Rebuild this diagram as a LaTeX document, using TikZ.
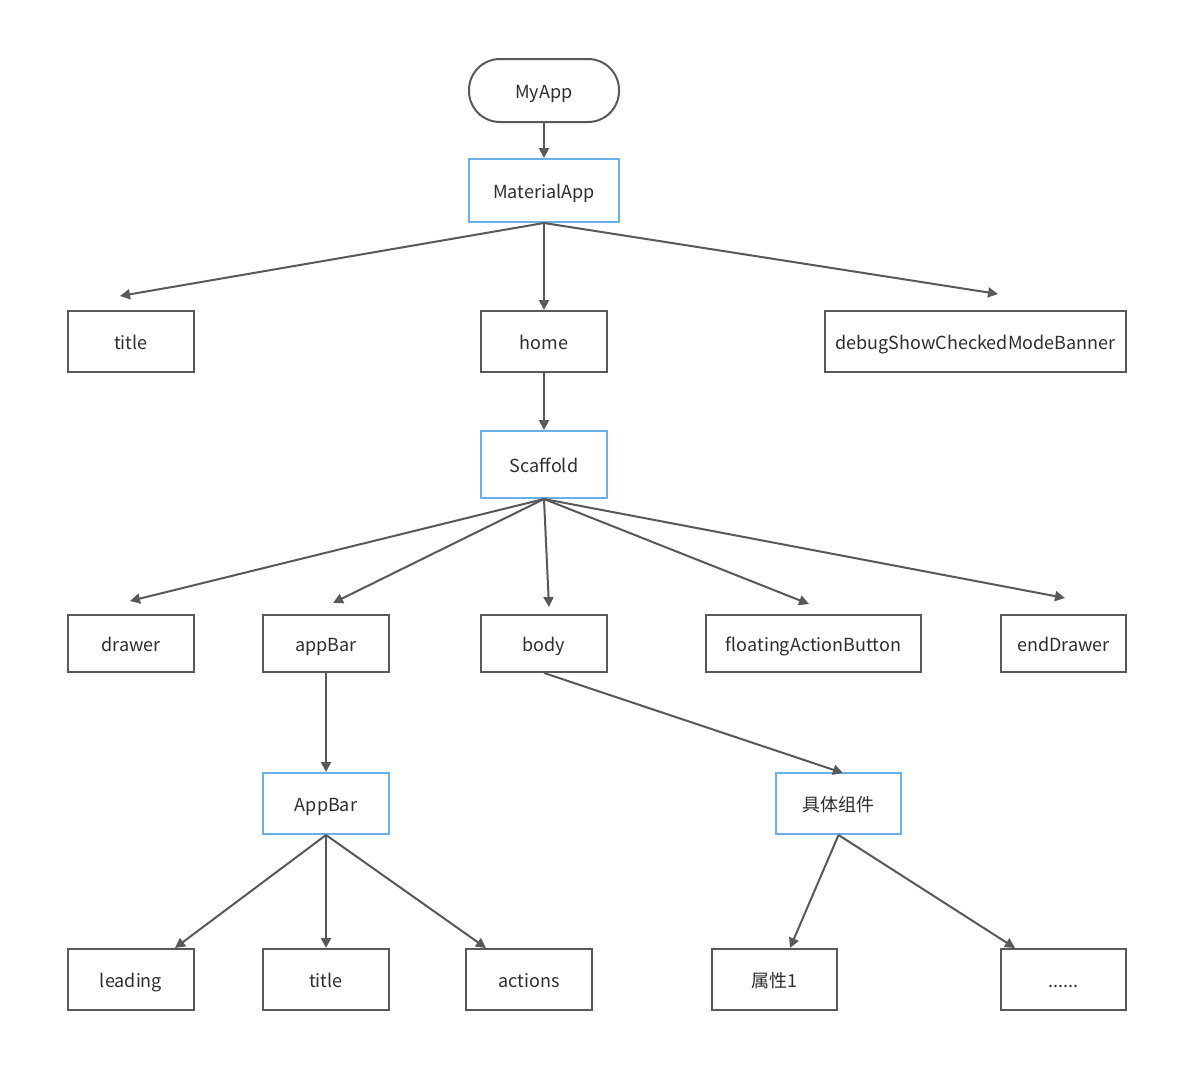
\documentclass[tikz,border=0pt]{standalone}
\usepackage{fontspec}
\setmainfont{Noto Sans CJK SC}
\usetikzlibrary{arrows.meta}
\definecolor{ln}{HTML}{595959}
\definecolor{bl}{HTML}{6AB0E6}
\begin{document}
\begin{tikzpicture}[x=1pt,y=-1pt,
  every node/.style={font=\fontsize{18}{21}\selectfont, text=black!82, inner sep=0pt, text height=17pt, text depth=2pt},
  box/.style={draw=ln, line width=2pt, minimum width=#1, minimum height=61pt},
  box/.default=126pt,
  bbox/.style={draw=bl, line width=2pt, minimum width=#1, minimum height=63pt},
  bbox/.default=126pt,
  arr/.style={draw=ln, line width=2pt, -{Triangle[length=10pt,width=10pt]}}]
\useasboundingbox (0,0) rectangle (1179,1084);
\fill[white] (0,0) rectangle (1179,1084);
\node[draw=ln, line width=2pt, rounded corners=31pt, minimum width=150pt, minimum height=63pt] (myapp) at (544,90.5) {MyApp};
\node[bbox=150pt] (mat) at (544,190.5) {MaterialApp};
\node[box] (title) at (131,341.5) {title};
\node[box] (home) at (544,341.5) {home};
\node[box=301pt] (debug) at (975.5,341.5) {debugShowCheckedModeBanner};
\node[bbox, minimum height=67pt] (scaf) at (544,464.5) {Scaffold};
\node[box, minimum height=57pt] (drawer) at (131,643.5) {drawer};
\node[box, minimum height=57pt] (appbar) at (326,643.5) {appBar};
\node[box, minimum height=57pt] (body) at (544,643.5) {body};
\node[box=215pt, minimum height=57pt] (fab) at (813.5,643.5) {floatingActionButton};
\node[box=125pt, minimum height=57pt] (end) at (1063.5,643.5) {endDrawer};
\node[bbox, minimum height=61pt] (AppBar) at (326,803.5) {AppBar};
\node[bbox=125pt, minimum height=61pt] (jt) at (838.5,803.5) {具体组件};
\node[box] (leading) at (131,979.5) {leading};
\node[box] (title2) at (326,979.5) {title};
\node[box] (actions) at (529,979.5) {actions};
\node[box=125pt] (sx) at (774.5,979.5) {属性1};
\node[box=125pt] (dots) at (1063.5,979.5) {......};
\coordinate (t1) at (120,296);
\coordinate (t3) at (998,294);
\coordinate (s1) at (130,601);
\coordinate (s2) at (333,603);
\coordinate (s3) at (549,607);
\coordinate (s4) at (809,604);
\coordinate (s5) at (1065,598);
\coordinate (b1) at (843,773);
\coordinate (a1) at (175,948);
\coordinate (a3) at (486,948);
\coordinate (j1) at (790,948);
\coordinate (j2) at (1015,948);
\draw[arr] (myapp.south) -- (mat.north);
\draw[arr] (mat.south) -- (t1);
\draw[arr] (mat.south) -- (home.north);
\draw[arr] (mat.south) -- (t3);
\draw[arr] (home.south) -- (scaf.north);
\draw[arr] (scaf.south) -- (s1);
\draw[arr] (scaf.south) -- (s2);
\draw[arr] (scaf.south) -- (s3);
\draw[arr] (scaf.south) -- (s4);
\draw[arr] (scaf.south) -- (s5);
\draw[arr] (appbar.south) -- (AppBar.north);
\draw[arr] (body.south) -- (b1);
\draw[arr] (AppBar.south) -- (a1);
\draw[arr] (AppBar.south) -- (title2.north);
\draw[arr] (AppBar.south) -- (a3);
\draw[arr] (jt.south) -- (j1);
\draw[arr] (jt.south) -- (j2);
\end{tikzpicture}
\end{document}
